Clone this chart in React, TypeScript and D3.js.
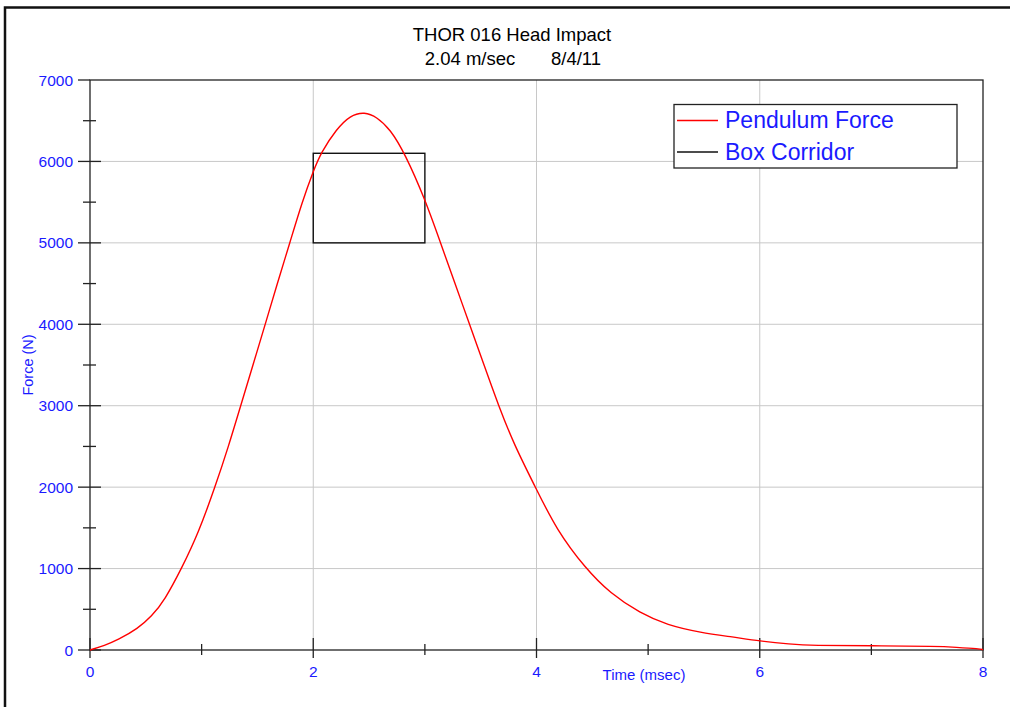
import React from "react";
import * as d3 from "d3";

const timeMs = [0, 0.13, 0.25, 0.43, 0.55, 0.67, 0.82, 0.97, 1.12, 1.24, 1.35, 1.46, 1.57, 1.68, 1.79, 1.9, 2.0, 2.07, 2.21, 2.33, 2.46, 2.57, 2.69, 2.82, 3.0, 3.14, 3.27, 3.4, 3.53, 3.66, 3.8, 3.99, 4.18, 4.44, 4.66, 4.93, 5.17, 5.47, 5.76, 6.0, 6.27, 6.47, 7.0, 7.6, 7.75, 7.97, 8.0];
const forceN = [0, 55, 123, 266, 409, 614, 1000, 1433, 2000, 2497, 3000, 3500, 4000, 4510, 5000, 5500, 5880, 6110, 6400, 6565, 6610, 6545, 6395, 6100, 5540, 5000, 4500, 4000, 3500, 3000, 2520, 2000, 1474, 1000, 696, 450, 307, 213, 160, 110, 72, 55, 52, 45, 34, 15, 5];

const corridorTime = [2, 3];
const corridorForce = [5000, 6100];

const xMajorTicks = [0, 2, 4, 6, 8];
const xMinorTicks = [1, 3, 5, 7];
const yMajorTicks = [0, 1000, 2000, 3000, 4000, 5000, 6000, 7000];
const yMinorTicks = [500, 1500, 2500, 3500, 4500, 5500, 6500];

const titleLine1 = "THOR 016 Head Impact";
const subtitleSpeed = "2.04 m/sec";
const subtitleDate = "8/4/11";
const legendLabels = ["Pendulum Force", "Box Corridor"];

const FONT = "Arial, 'Liberation Sans', sans-serif";
const BLUE = "#1a1aff";

export default function App() {
  const x = d3.scaleLinear().domain([0, 8]).range([90, 983]);
  const y = d3.scaleLinear().domain([0, 7000]).range([650, 80]);
  const pts = timeMs.map((t, i) => [t, forceN[i]] as [number, number]);
  const line = d3
    .line<[number, number]>()
    .x((d) => x(d[0]))
    .y((d) => y(d[1]))
    .curve(d3.curveBasis);

  return (
    <svg
      width={1010}
      height={707}
      style={{ position: "absolute", left: 0, top: 0, background: "#fff" }}
    >
      <rect x={0} y={0} width={1010} height={707} fill="#fff" />
      {/* outer frame */}
      <path d="M5,720 L5,7.5 L1012,7.5" fill="none" stroke="#111" strokeWidth={2.5} />

      {/* title */}
      <text x={512} y={41} textAnchor="middle" fontFamily={FONT} fontSize={18.5} fill="#000">
        {titleLine1}
      </text>
      <text x={470} y={65} textAnchor="middle" fontFamily={FONT} fontSize={18.5} fill="#000">
        {subtitleSpeed}
      </text>
      <text x={576} y={65} textAnchor="middle" fontFamily={FONT} fontSize={18.5} fill="#000">
        {subtitleDate}
      </text>

      {/* grid */}
      {xMajorTicks.filter((t) => t > 0 && t < 8).map((t) => (
        <line key={"gx" + t} x1={x(t)} x2={x(t)} y1={y(7000)} y2={y(0)} stroke="#c8c8c8" strokeWidth={1} />
      ))}
      {yMajorTicks.filter((v) => v > 0 && v < 7000).map((v) => (
        <line key={"gy" + v} x1={x(0)} x2={x(8)} y1={y(v)} y2={y(v)} stroke="#c8c8c8" strokeWidth={1} />
      ))}

      {/* plot border */}
      <rect x={x(0)} y={y(7000)} width={x(8) - x(0)} height={y(0) - y(7000)} fill="none" stroke="#222" strokeWidth={1.3} />

      {/* y ticks */}
      {yMajorTicks.map((v) => (
        <g key={"yt" + v}>
          <line x1={78} x2={v === 7000 ? 90 : 101} y1={y(v)} y2={y(v)} stroke="#222" strokeWidth={1.3} />
          <text x={73} y={y(v) + 5.5} textAnchor="end" fontFamily={FONT} fontSize={15.5} fill={BLUE}>
            {v}
          </text>
        </g>
      ))}
      {yMinorTicks.map((v) => (
        <line key={"ym" + v} x1={83} x2={96} y1={y(v)} y2={y(v)} stroke="#222" strokeWidth={1.3} />
      ))}

      {/* x ticks */}
      {xMajorTicks.map((t) => (
        <g key={"xt" + t}>
          <line x1={x(t)} x2={x(t)} y1={638} y2={658} stroke="#222" strokeWidth={1.3} />
          <text x={x(t)} y={677} textAnchor="middle" fontFamily={FONT} fontSize={15.5} fill={BLUE}>
            {t}
          </text>
        </g>
      ))}
      {xMinorTicks.map((t) => (
        <line key={"xm" + t} x1={x(t)} x2={x(t)} y1={644} y2={655} stroke="#222" strokeWidth={1.3} />
      ))}

      {/* axis labels */}
      <text x={644} y={680} textAnchor="middle" fontFamily={FONT} fontSize={15} fill={BLUE}>
        Time (msec)
      </text>
      <text
        transform={`translate(33,365) rotate(-90)`}
        textAnchor="middle"
        fontFamily={FONT}
        fontSize={14.5}
        fill={BLUE}
      >
        Force (N)
      </text>

      {/* box corridor */}
      <rect
        x={x(corridorTime[0])}
        y={y(corridorForce[1])}
        width={x(corridorTime[1]) - x(corridorTime[0])}
        height={y(corridorForce[0]) - y(corridorForce[1])}
        fill="none"
        stroke="#111"
        strokeWidth={1.4}
      />

      {/* pendulum force */}
      <path d={line(pts) || ""} fill="none" stroke="#ff0000" strokeWidth={1.4} />

      {/* legend */}
      <rect x={674} y={104.5} width={283} height={63.5} fill="#fff" stroke="#222" strokeWidth={1.3} />
      <line x1={677} x2={718} y1={120.5} y2={120.5} stroke="#ff0000" strokeWidth={1.3} />
      <line x1={677} x2={718} y1={152} y2={152} stroke="#111" strokeWidth={1.3} />
      <text x={725} y={128} fontFamily={FONT} fontSize={23} fill={BLUE}>
        {legendLabels[0]}
      </text>
      <text x={725} y={160} fontFamily={FONT} fontSize={23} fill={BLUE}>
        {legendLabels[1]}
      </text>
    </svg>
  );
}
